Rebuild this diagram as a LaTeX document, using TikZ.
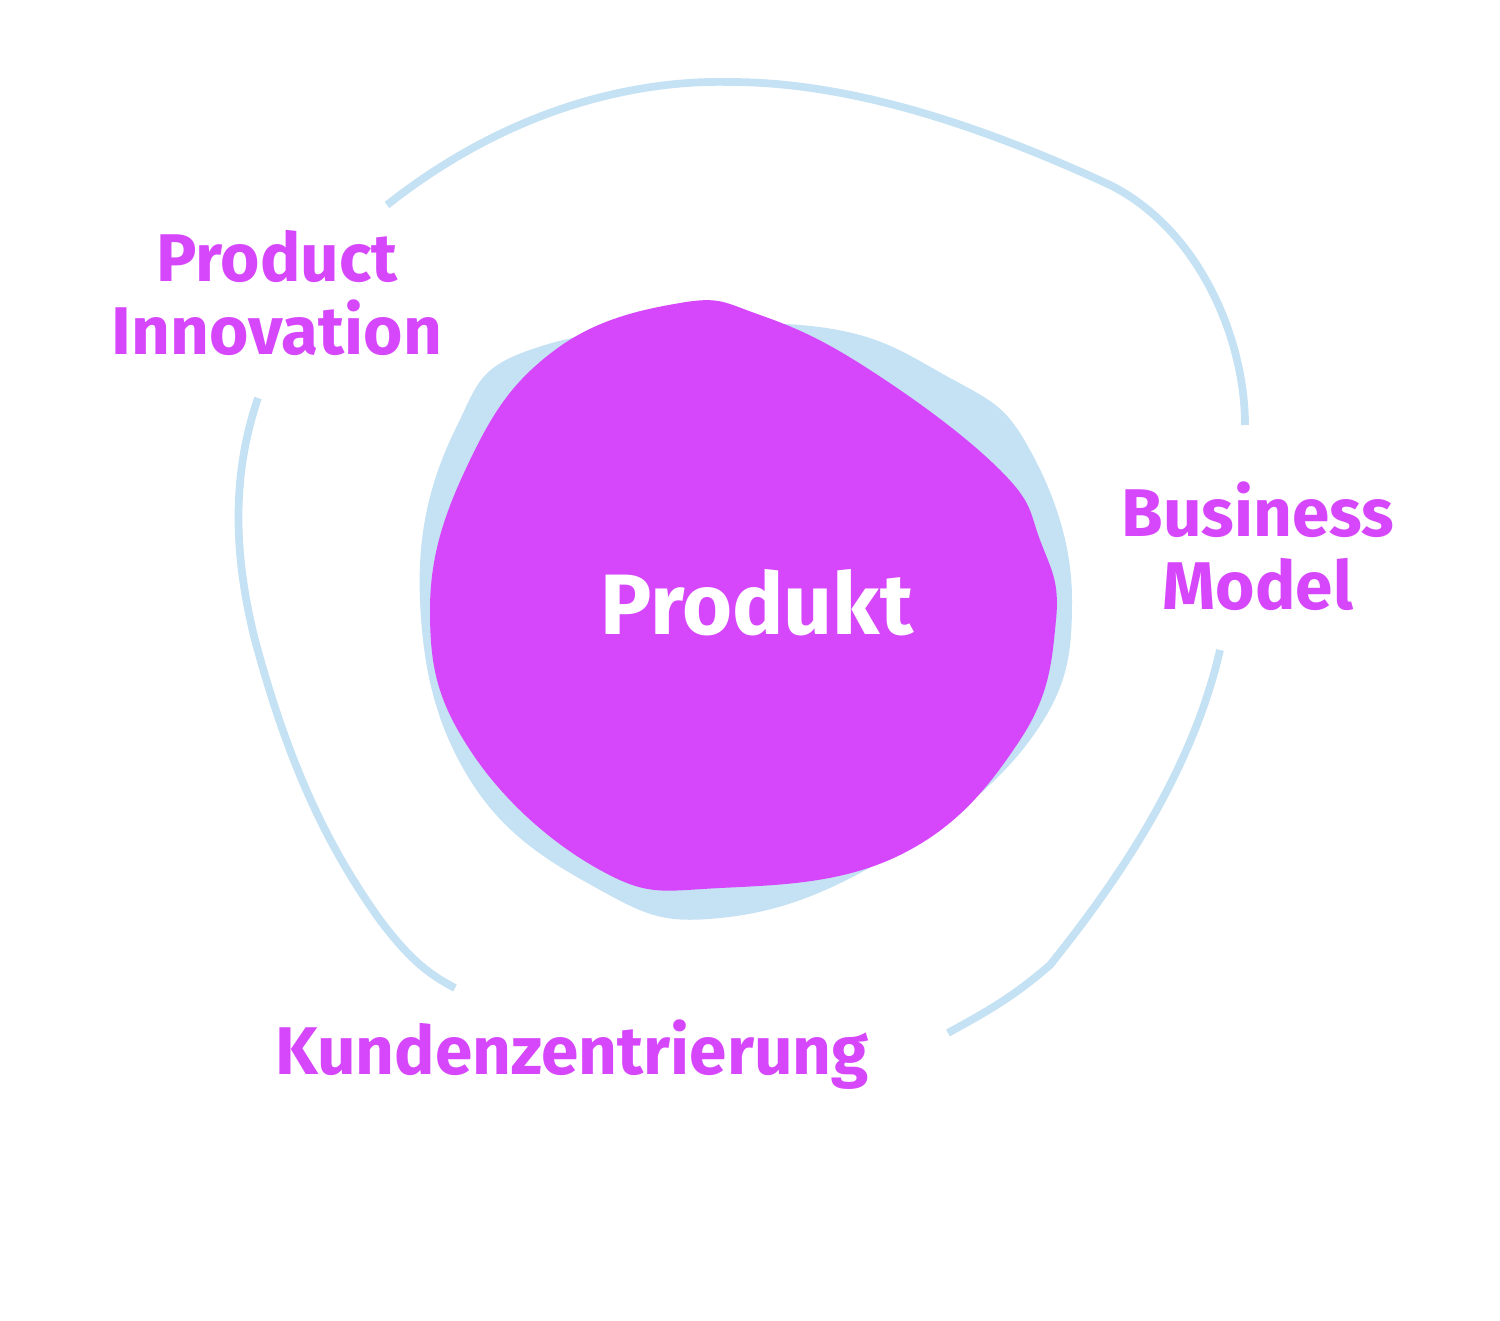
\documentclass[tikz,border=0pt]{standalone}
\usepackage{fontspec}
\setmainfont{Fira Sans}
\definecolor{mag}{HTML}{D646FA}
\definecolor{lblue}{HTML}{C5E1F4}
\begin{document}
\begin{tikzpicture}[x=0.05cm,y=-0.05cm,
  ring/.style={draw=lblue,line width=11pt,line cap=butt},
  lab/.style={text=mag,font=\fontsize{96}{104}\selectfont\bfseries,align=center}]
\useasboundingbox (0,0) rectangle (1500,1321);
% outer ring segments
\draw[ring] (387,205) .. controls (520,100) and (650,80) .. (730,82) .. controls (850,82) and (980,125) .. (1110,185) .. controls (1200,230) and (1245,340) .. (1245,425);
\draw[ring] (1220,650) .. controls (1190,780) and (1110,890) .. (1050,965) .. controls (1010,1000) and (980,1015) .. (948,1033);
\draw[ring] (258,398) .. controls (230,480) and (235,560) .. (255,640) .. controls (290,770) and (330,850) .. (380,920) .. controls (410,960) and (430,975) .. (455,988);
% blobs
\fill[lblue] plot[smooth cycle,tension=0.7] coordinates {(545,345) (455,430) (420,600) (470,780) (600,890) (720,918) (880,862) (1030,740) (1072,600) (1030,450) (950,378) (800,325)};
\fill[mag] plot[smooth cycle,tension=0.7] coordinates {(680,303) (555,350) (470,460) (430,610) (470,750) (600,870) (720,888) (900,855) (1020,740) (1056,620) (1040,540) (1000,470) (870,370) (760,315)};
\node[lab] (pi) at (277,293) {Product\\Innovation};
\node[lab] (bm) at (1258,546) {Business\\Model};
\node[lab] (kz) at (572,1055) {Kundenzentrierung};
\node[text=white,font=\fontsize{122}{130}\selectfont\bfseries] (p) at (757,603) {Produkt};
\end{tikzpicture}
\end{document}
